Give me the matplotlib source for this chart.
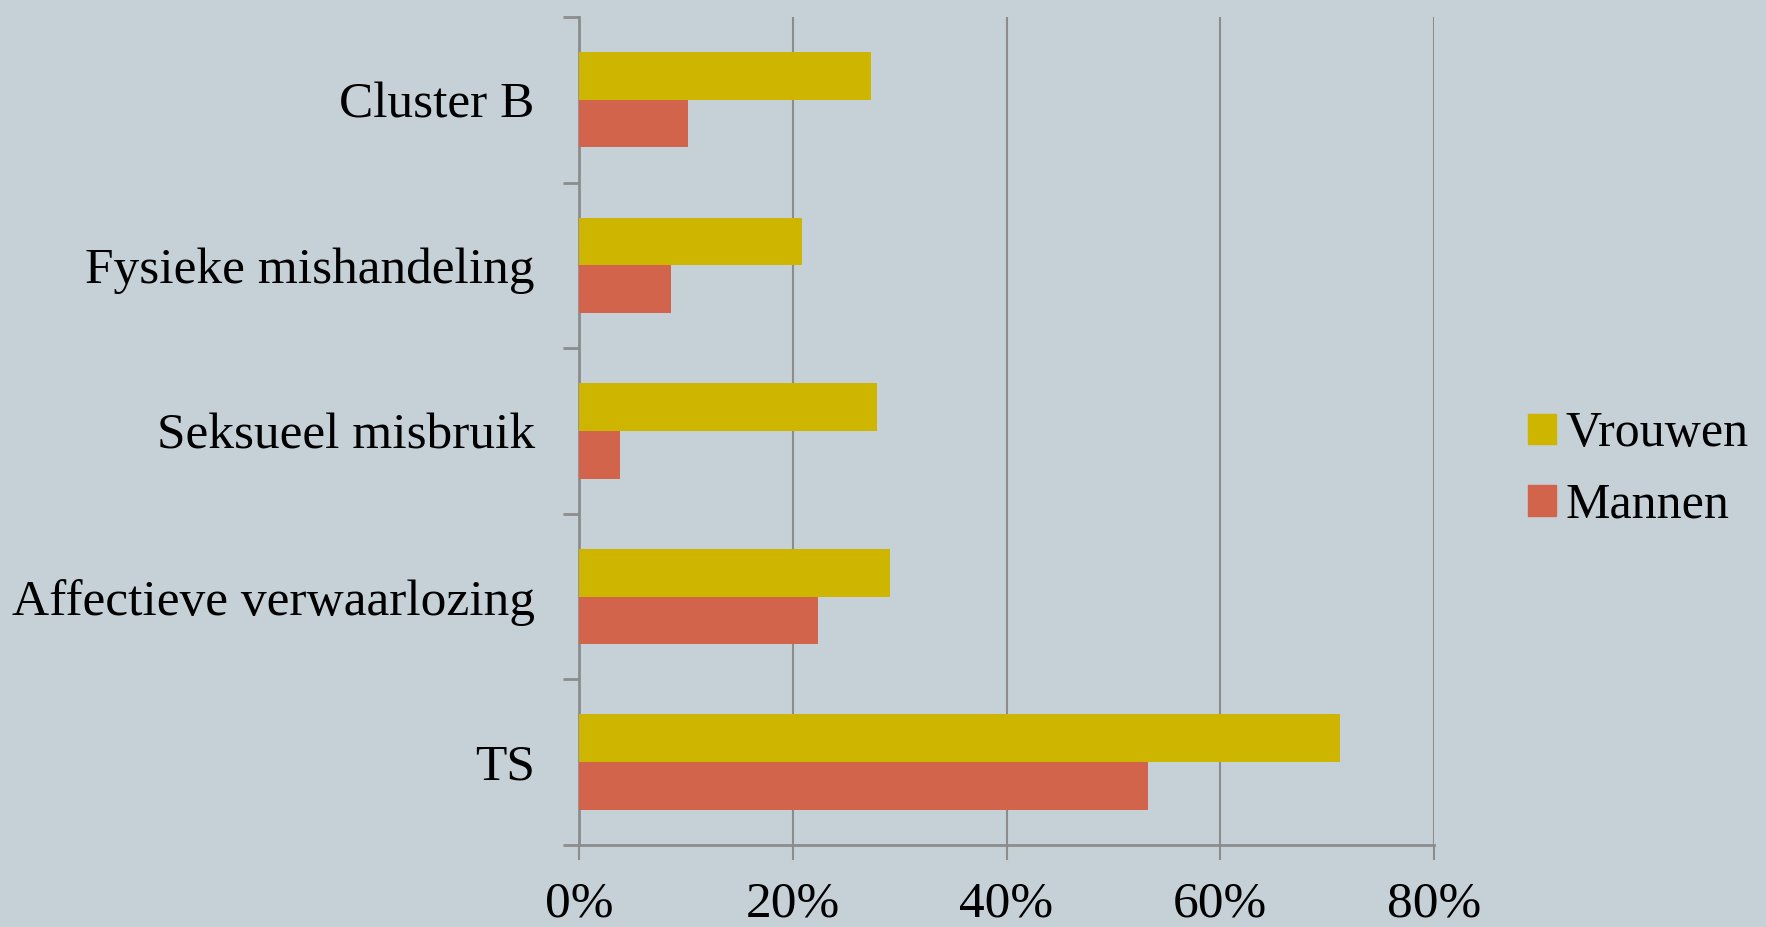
import matplotlib.pyplot as plt
import numpy as np
from matplotlib.patches import Patch

categories = ["TS", "Affectieve verwaarlozing", "Seksueel misbruik",
              "Fysieke mishandeling", "Cluster B"]
vrouwen = [71.2, 29.1, 27.9, 20.9, 27.3]
mannen = [53.2, 22.4, 3.8, 8.6, 10.2]
xticks = [0, 20, 40, 60, 80]
xticklabels = ["0%", "20%", "40%", "60%", "80%"]

bg = "#C5D1D7"
yellow = "#CDB500"
red = "#D2644B"
grey = "#8C8C8C"

plt.rcParams['font.family'] = ['Liberation Serif', 'DejaVu Serif']

fig = plt.figure(figsize=(17.66, 9.27), dpi=100, facecolor=bg)
ax = fig.add_axes([0.3279, 0.0885, 0.812 - 0.3279, 0.9817 - 0.0885])
ax.set_facecolor(bg)

y = np.arange(len(categories))
h = 0.288
ax.barh(y + h / 2, vrouwen, height=h, color=yellow, zorder=3, label="Vrouwen")
ax.barh(y - h / 2, mannen, height=h, color=red, zorder=3, label="Mannen")

ax.set_xlim(0, 80)
ax.set_ylim(-0.5, len(categories) - 0.5)
ax.set_xticks(xticks)
ax.set_xticklabels(xticklabels, fontsize=37)
ax.set_yticks(np.arange(-0.5, len(categories), 1.0), minor=False)
ax.set_yticklabels([])
ax.set_yticks(y, minor=True)
ax.set_yticklabels(categories, minor=True, fontsize=37)
ax.tick_params(axis='y', which='minor', length=0, pad=32)
ax.tick_params(axis='y', which='major', length=11.5, width=2, color=grey)
ax.tick_params(axis='x', length=11, width=1.5, color=grey, pad=15)

ax.grid(axis='x', color=grey, linewidth=1.5, zorder=1)
for s in ['top', 'right']:
    ax.spines[s].set_visible(False)
ax.spines['left'].set_color(grey)
ax.spines['left'].set_linewidth(2)
ax.spines['bottom'].set_color(grey)
ax.spines['bottom'].set_linewidth(2)

handles = [Patch(color=yellow, label="Vrouwen"), Patch(color=red, label="Mannen")]
fig.legend(handles=handles, loc='center left', bbox_to_anchor=(0.851, 0.493),
           frameon=False, fontsize=36, handlelength=0.56, handleheight=0.56,
           handletextpad=0.2, labelspacing=0.5, borderpad=0)

fig.savefig("out.png", dpi=100, facecolor=bg)
